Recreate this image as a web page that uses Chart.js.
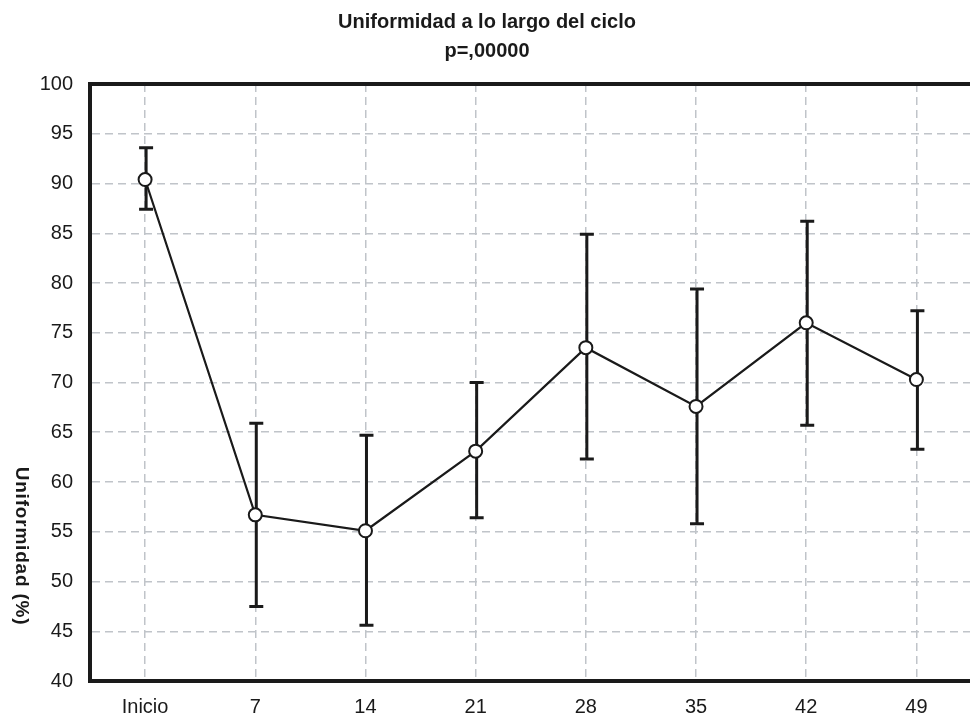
<!DOCTYPE html>
<html>
<head>
<meta charset="utf-8">
<script src="https://cdn.jsdelivr.net/npm/chart.js@4/dist/chart.umd.min.js"></script>
<style>
    body { margin: 0; background: #fff; overflow: hidden; }
    #wrap { width: 980px; height: 722px; }
</style>
</head>
<body>
<div id="wrap"><canvas id="chart"></canvas></div>
<script>
// days of the cycle
const labels = ['Inicio', '7', '14', '21', '28', '35', '42', '49'];
// mean uniformity (%)
const means = [90.4, 56.7, 55.1, 63.1, 73.5, 67.6, 76.0, 70.3];
// top and bottom of the error bars
const upper = [93.6, 65.9, 64.7, 70.0, 84.9, 79.4, 86.2, 77.2];
const lower = [87.4, 47.5, 45.6, 56.4, 62.3, 55.8, 65.7, 63.3];

const ink = '#1a1a1a';
const gridColor = '#c0c4c9';

// error bars go under the line and markers
const errorBars = {
    id: 'errorBars',
    beforeDatasetsDraw(chart) {
        const ctx = chart.ctx;
        const x = chart.scales.x, y = chart.scales.y;
        ctx.save();
        ctx.strokeStyle = ink;
        ctx.lineWidth = 3;
        labels.forEach((lab, i) => {
            const px = x.getPixelForValue(i) + 1;
            const top = y.getPixelForValue(upper[i]);
            const bot = y.getPixelForValue(lower[i]);
            ctx.beginPath();
            ctx.moveTo(px, top); ctx.lineTo(px, bot);
            ctx.moveTo(px - 7, top); ctx.lineTo(px + 7, top);
            ctx.moveTo(px - 7, bot); ctx.lineTo(px + 7, bot);
            ctx.stroke();
        });
        ctx.restore();
    }
};

// top frame line and rotated y title
const frame = {
    id: 'frame',
    afterDraw(chart) {
        const ctx = chart.ctx;
        const a = chart.chartArea;
        ctx.save();
        ctx.strokeStyle = ink;
        ctx.lineWidth = 4;
        ctx.beginPath();
        ctx.moveTo(a.left - 2, a.top);
        ctx.lineTo(a.right + 10, a.top);
        ctx.stroke();

        ctx.translate(21, 546);
        ctx.rotate(Math.PI / 2);
        ctx.fillStyle = ink;
        ctx.font = 'bold 19px "Liberation Sans", Arial, sans-serif';
        ctx.textAlign = 'center';
        ctx.textBaseline = 'middle';
        ctx.letterSpacing = '0.8px';
        ctx.fillText('Uniformidad (%)', 0, 0);
        ctx.restore();
    }
};

Chart.defaults.font.family = '"Liberation Sans", Arial, sans-serif';
Chart.defaults.color = ink;

new Chart(document.querySelector('#chart'), {
    type: 'line',
    data: {
        labels: labels,
        datasets: [{
            data: means,
            borderColor: ink,
            borderWidth: 2.2,
            pointRadius: 6.5,
            pointBorderWidth: 2,
            pointBackgroundColor: '#fff',
            pointBorderColor: ink,
            tension: 0
        }]
    },
    options: {
        responsive: true,
        maintainAspectRatio: false,
        animation: false,
        layout: { padding: { left: 0, right: 6, top: 0, bottom: 0 } },
        plugins: {
            legend: { display: false },
            tooltip: { enabled: false },
            title: {
                display: true,
                text: ['Uniformidad a lo largo del ciclo', 'p=,00000'],
                font: { size: 20, weight: 'bold', lineHeight: 1.45 },
                color: ink,
                padding: { top: 8, bottom: 18 }
            }
        },
        scales: {
            x: {
                offset: true,
                grid: {
                    offset: false,
                    color: gridColor,
                    lineWidth: 1.5,
                    drawTicks: false
                },
                border: { color: ink, width: 4, dash: [8, 5] },
                ticks: { font: { size: 20 }, padding: 14 },
                afterFit(scale) { scale.height = 41; }
            },
            y: {
                min: 40,
                max: 100,
                grid: {
                    color: gridColor,
                    lineWidth: 1.5,
                    drawTicks: false
                },
                border: { color: ink, width: 4, dash: [8, 5] },
                ticks: { stepSize: 5, font: { size: 20 }, padding: 17 },
                afterFit(scale) { scale.width = 90; }
            }
        }
    },
    plugins: [errorBars, frame]
});
</script>
</body>
</html>
